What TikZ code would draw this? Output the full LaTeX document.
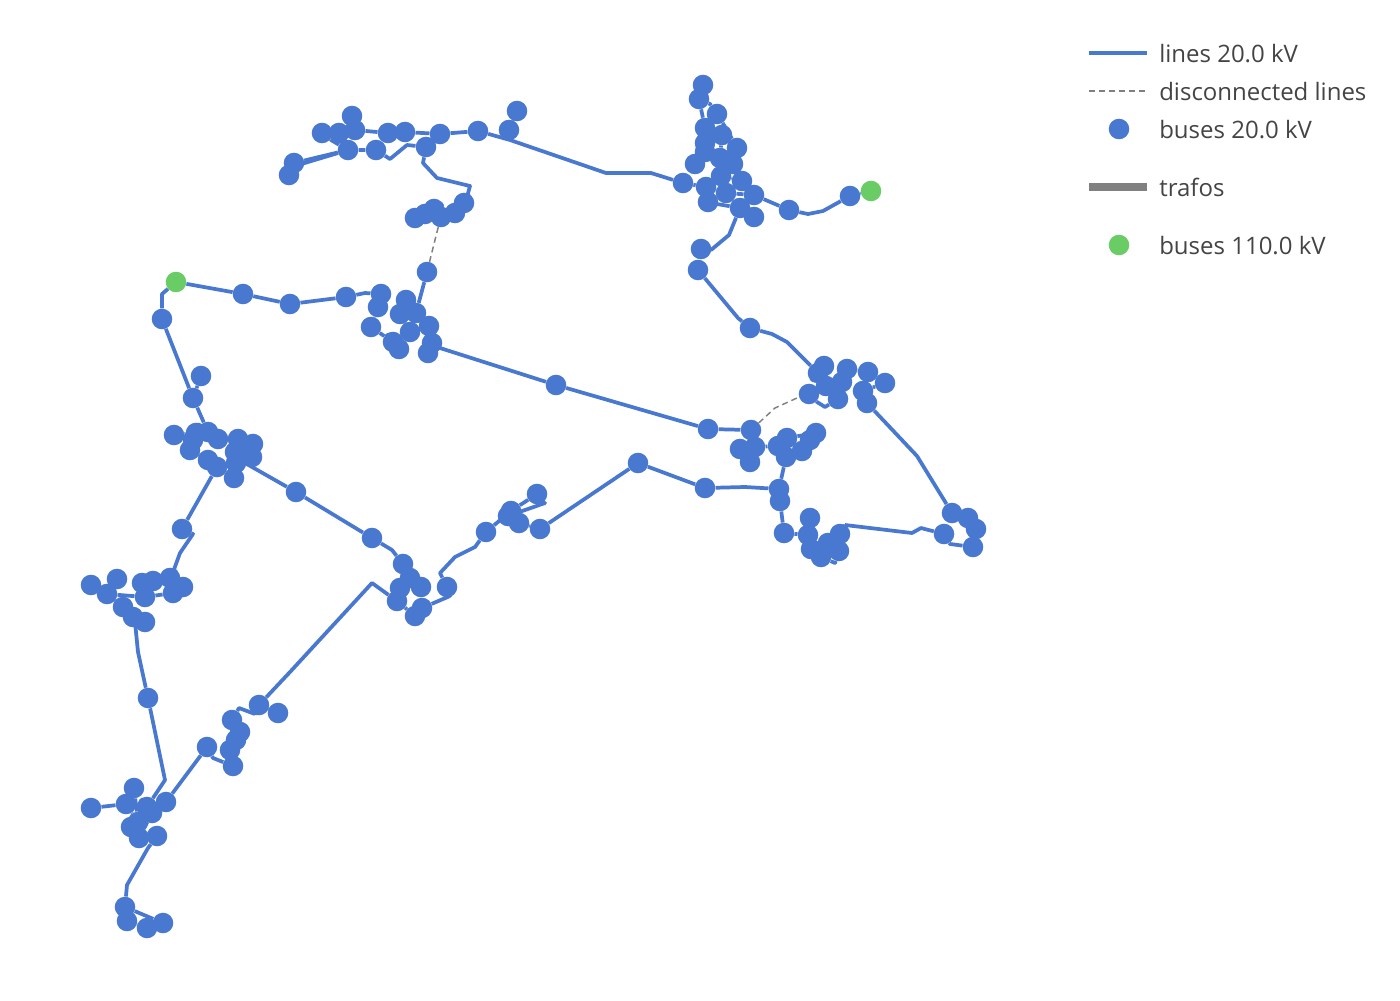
\documentclass[tikz,border=0pt]{standalone}
\usepackage{fontspec}
\setmainfont{Open Sans}
\usetikzlibrary{backgrounds}
\definecolor{busblue}{HTML}{4878D0}
\definecolor{hvgreen}{HTML}{6ACC64}
\definecolor{legendtext}{HTML}{444444}
\tikzset{
bus/.style={circle, fill=busblue, inner sep=0pt, minimum size=15.4pt},
hvbus/.style={circle, fill=hvgreen, inner sep=0pt, minimum size=15.4pt},
mvline/.style={draw=busblue, line width=2.8pt, line join=round},
offline/.style={draw=gray, line width=1.1pt, dash pattern=on 4.5pt off 3pt},
trafo/.style={draw=gray, line width=5.8pt},
legendlabel/.style={anchor=west, inner sep=0pt, text=legendtext, font=\fontsize{18}{22}\selectfont}
}
\begin{document}
\begin{tikzpicture}[x=0.75pt, y=-0.75pt]
\useasboundingbox (0,0) rectangle (1400,1000);
% buses
\foreach \n/\x/\y in {a1/703/85, a2/699/99, a3/717/114, a4/705/128, a5/722/135, a6/705/143, a7/737/148,
a8/705/152, a9/733/164, a10/695/164, a11/720/158, a12/726/161, a13/721/176, a14/742/181, a15/706/187,
a16/726/193, a17/708/202, a18/754/195, a19/683/183, a20/740/208, a21/754/217, a22/789/210, a23/850/196,
a24/701/249, a25/698/270,
b1/352/116, b2/322/133, b3/339/133, b4/355/130, b5/388/133, b6/405/132, b7/440/134, b8/478/131, b9/509/130,
b10/517/111, b11/348/150, b12/376/150, b13/426/147, b14/294/163, b15/289/175, b16/464/203, b17/455/213,
b18/441/217, b19/434/209, b20/425/214, b21/415/218,
c1/427/272, c2/381/294, c3/378/307, c4/346/297, c5/290/304, c6/243/294, c7/406/300, c8/400/314, c9/416/313,
c10/429/326, c11/410/332, c12/371/327, c13/393/342, c14/399/349, c15/432/343, c16/428/353, c17/556/385,
c18/708/429,
d1/824/366, d2/818/373, d3/847/369, d4/868/372, d5/885/383, d6/863/391, d7/867/403, d8/842/382, d9/826/386,
d10/809/394, d11/838/399,
e1/952/513, e2/968/518, e3/976/529, e4/973/547, e5/944/534, e6/840/534, e7/839/551, e8/821/557, e9/828/543,
e10/811/549, e11/808/535, e12/810/518, e13/784/533, e14/780/501, e15/779/489, e16/705/488, e17/638/463,
f1/751/430, f2/740/449, f3/755/447, f4/750/462, f5/778/446, f6/787/438, f7/786/457, f8/802/451, f9/810/440,
f10/816/433, f11/750/328,
g1/201/376, g2/193/398, g3/174/435, g4/196/433, g5/208/432, g6/218/439, g7/193/440, g8/190/450, g9/208/460,
g10/217/467, g11/238/439, g12/253/444, g13/235/452, g14/252/457, g15/236/463, g16/234/478, g17/296/492,
g18/182/529, g19/162/319,
h1/91/585, h2/117/579, h3/107/594, h4/123/607, h5/133/617, h6/145/622, h7/142/583, h8/153/581, h9/145/597,
h10/170/578, h11/183/587, h12/173/593, h13/148/698,
i1/134/788, i2/126/804, i3/91/808, i4/147/807, i5/152/813, i6/166/802, i7/131/827, i8/138/822, i9/139/838,
i10/157/836, i11/125/907, i12/127/921, i13/147/928, i14/163/923, i15/207/747, i16/233/766, i17/230/750,
i18/236/740, i19/240/732, i20/232/720, i21/259/705, i22/278/713,
j1/372/538, j2/403/564, j3/410/578, j4/421/587, j5/400/588, j6/397/601, j7/422/608, j8/415/616, j9/447/587,
j10/486/532, j11/511/511, j12/508/516, j13/519/523, j14/537/494, j15/540/529}
\node[bus] (\n) at (\x,\y) {};
\node[hvbus] (s1) at (871,191) {};
\node[hvbus] (s2) at (176,282) {};
% bends
\foreach \n/\x/\y in {k1/510/140, k2/606/173, k3/651/173, k4/808/214, k5/823/211, k6/729/235, k7/738/318,
k8/772/334, k9/787/342, k10/390/159, k11/407/145, k12/423/163, k13/437/178, k14/470/186, k15/365/293,
k16/917/456, k17/921/528, k18/912/533, k19/845/525, k20/950/544, k21/825/407, k22/835/563, k23/745/487,
k24/162/294, k25/193/534, k26/180/553, k27/172/575, k28/135/622, k29/138/652, k30/165/780, k31/148/848,
k32/127/885, k33/213/758, k34/239/708, k35/255/714, k36/290/672, k37/372/583, k38/392/550, k39/450/596,
k40/440/573, k41/455/557, k42/475/547, k43/545/503, k44/533/501, k45/331/140, k46/338/153, k47/775/408,
k48/797/398, k49/437/232, k50/430/260, k51/817/402, k52/467/197, k53/710/104, k54/727/130, k55/717/204,
k56/711/250, k57/238/459, k58/298/165, k59/440/348}
\coordinate (\n) at (\x,\y);
\begin{scope}[on background layer]
\draw[mvline] (a1)--(a2)--(a4)--(a6)--(a8)--(a10);
\draw[mvline] (a2)--(k53)--(a3)--(k54)--(a7)--(a9)--(a13)--(a14)--(a18)--(a22)--(k4)--(k5)--(a23)--(s1);
\draw[mvline] (a5)--(a11)--(a12)--(a13)--(a15)--(a17)--(k55)--(a20)--(a21);
\draw[mvline] (a15)--(a16)--(a18);
\draw[mvline] (a20)--(k6)--(k56)--(a24);
\draw[mvline] (a25)--(k7)--(f11)--(k8)--(k9)--(d2)--(d1);
\draw[mvline] (a19)--(k3)--(k2)--(k1)--(b8);
\draw[mvline] (a19)--(a15);
\draw[mvline] (k1)--(b9)--(b10);
\draw[mvline] (b8)--(b7)--(b6)--(b5)--(b4)--(b3)--(b2);
\draw[mvline] (b4)--(b1);
\draw[mvline] (b7)--(b13)--(k11)--(k10)--(b12)--(b11)--(b14)--(b15);
\draw[mvline] (b15)--(k58)--(k46);
\draw[mvline] (b3)--(k45)--(b11);
\draw[mvline] (b13)--(k12)--(k13)--(k14)--(k52)--(b16)--(b17)--(b18)--(b19)--(b20)--(b21);
\draw[mvline] (c1)--(c9)--(c7);
\draw[mvline] (c9)--(c8)--(c11)--(c10)--(c15)--(c16);
\draw[mvline] (c15)--(k59)--(c17)--(c18)--(f1)--(f3)--(f2);
\draw[mvline] (f3)--(f4);
\draw[mvline] (s2)--(c6)--(c5)--(c4)--(k15)--(c2)--(c3)--(c12)--(c13)--(c14);
\draw[mvline] (s2)--(k24)--(g19)--(g2)--(g1);
\draw[mvline] (g2)--(g5)--(g4)--(g7)--(g8);
\draw[mvline] (g4)--(g3);
\draw[mvline] (g5)--(g6)--(g11)--(g12)--(g14)--(g13)--(g15)--(g16);
\draw[mvline] (g8)--(g9)--(g10)--(g18)--(k25)--(k26)--(k27)--(h10)--(h11)--(h12)--(h9)--(h3)--(h1);
\draw[mvline] (h10)--(h8)--(h7)--(h9);
\draw[mvline] (h2)--(h3)--(h4)--(h5)--(h6)--(k28)--(k29)--(h13)--(k30)--(i4)--(i5)--(i9)--(i10)--(k31)--(k32)--(i11)--(i14)--(i13)--(i12)--(i11);
\draw[mvline] (i3)--(i2)--(i8)--(i7)--(i9);
\draw[mvline] (i1)--(i8);
\draw[mvline] (i5)--(i6)--(i15)--(k33)--(i16)--(i17)--(i18)--(i19)--(i20)--(k34)--(k35)--(i21)--(i22);
\draw[mvline] (i21)--(k36)--(k37)--(j6)--(j5)--(j3)--(j4);
\draw[mvline] (k57)--(g17)--(j1)--(k38)--(j2)--(j3);
\draw[mvline] (j6)--(j8)--(j7)--(k39)--(j9)--(k40)--(k41)--(k42)--(j10)--(j11)--(j14);
\draw[mvline] (j12)--(k43)--(k44);
\draw[mvline] (j11)--(j13)--(j15)--(e17)--(e16)--(k23)--(e15)--(e14)--(e13)--(e11)--(e12);
\draw[mvline] (e15)--(f7)--(f6)--(f5)--(f3);
\draw[mvline] (f7)--(f8)--(f9)--(f10)--(f6);
\draw[mvline] (e11)--(e10)--(e8)--(k22)--(e7)--(e9)--(e6)--(k19)--(k18)--(k17)--(e5)--(k20)--(e4)--(e3)--(e2)--(e1)--(k16)--(d7)--(d6)--(d4)--(d3)--(d8)--(d9)--(d2);
\draw[mvline] (d6)--(d5);
\draw[mvline] (d9)--(d10)--(k51)--(k21)--(d11)--(d8);
\draw[offline] (b18)--(k49)--(k50)--(c1);
\draw[offline] (f1)--(k47)--(k48)--(d10);
\end{scope}
% legend
\coordinate (lga) at (1089,53);
\coordinate (lgb) at (1147,53);
\coordinate (lgc) at (1089,91);
\coordinate (lgd) at (1147,91);
\coordinate (lge) at (1089,187);
\coordinate (lgf) at (1147,187);
\draw[mvline] (lga)--(lgb);
\draw[offline] (lgc)--(lgd);
\node[bus] (lgbus) at (1119,129) {};
\draw[trafo] (lge)--(lgf);
\node[hvbus] (lghv) at (1119,245) {};
\node[legendlabel] (lbla) at (1159,53.7) {lines 20.0 kV};
\node[legendlabel] (lblb) at (1159,91.7) {disconnected lines};
\node[legendlabel] (lblc) at (1159,129.7) {buses 20.0 kV};
\node[legendlabel] (lbld) at (1159,187.7) {trafos};
\node[legendlabel] (lble) at (1159,245.7) {buses 110.0 kV};
\end{tikzpicture}
\end{document}
